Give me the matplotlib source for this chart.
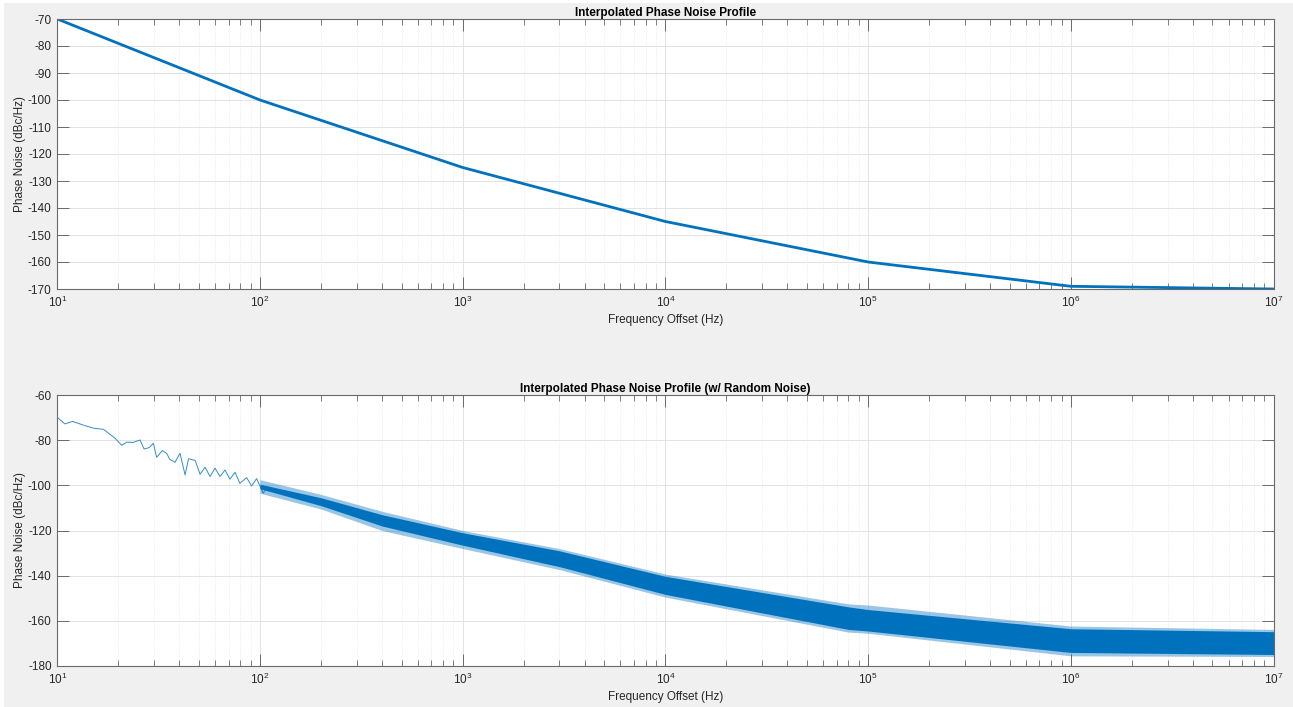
import matplotlib
matplotlib.use("Agg")
import matplotlib.pyplot as plt
from matplotlib.patches import Rectangle
from matplotlib.ticker import LogLocator, NullFormatter

# ---- data ----
profile_freq = [1e1, 1e2, 1e3, 1e4, 1e5, 1e6, 1e7]
profile_pn = [-70, -100, -125, -145, -160, -169, -170]

# low-frequency part of the noisy trace (individual wiggles)
noisy_freq = [10, 10.9, 11.9, 13.4, 15.1, 16.9, 18.2, 19.3, 20.8, 22.0, 23.7,
              25.6, 26.8, 28.4, 29.8, 30.9, 33.0, 34.6, 35.9, 38.1, 40.3, 42.7,
              44.4, 47.9, 50.6, 53.6, 56.7, 60.0, 63.5, 67.2, 71.1, 75.3, 79.6,
              85.9, 91.0, 96.2, 103.8, 108.0]
noisy_pn = [-69.9, -72.8, -71.7, -73.3, -74.7, -75.2, -77.4, -79.2, -82.3, -80.9,
            -81.0, -79.9, -83.9, -83.3, -81.4, -87.6, -84.6, -85.8, -88.5, -89.8,
            -85.8, -95.4, -88.2, -89.0, -95.1, -92.0, -96.1, -92.4, -96.1, -93.2,
            -97.3, -94.2, -99.1, -96.6, -100.3, -97.0, -103.5, -100.5]

# dense noisy band at higher offsets: core and spike envelopes
band_freq = [100, 200, 400, 1e3, 3e3, 1e4, 8e4, 1e5, 1e6, 1e7]
core_upper = [-99.5, -105.5, -113.0, -121.0, -129.0, -140.3, -153.8, -155.0, -163.5, -164.8]
core_lower = [-101.5, -109.0, -118.0, -126.5, -136.0, -148.3, -163.8, -164.5, -174.0, -174.9]
spike_upper = [-97.5, -104.0, -111.5, -120.0, -128.0, -139.3, -152.5, -153.0, -162.3, -163.8]
spike_lower = [-103.5, -110.5, -120.0, -128.0, -137.3, -149.5, -165.0, -165.5, -175.5, -175.8]

titles = ["Interpolated Phase Noise Profile",
          "Interpolated Phase Noise Profile (w/ Random Noise)"]
xlabel = "Frequency Offset (Hz)"
ylabel = "Phase Noise (dBc/Hz)"
xticks = [1e1, 1e2, 1e3, 1e4, 1e5, 1e6, 1e7]
xticklabels = ['$10^{1}$', '$10^{2}$', '$10^{3}$', '$10^{4}$',
               '$10^{5}$', '$10^{6}$', '$10^{7}$']
yticks_top = list(range(-170, -69, 10))
yticks_bot = list(range(-180, -59, 20))

# ---- styling ----
plt.rcParams['font.family'] = ['Liberation Sans', 'DejaVu Sans']
plt.rcParams['axes.unicode_minus'] = False
plt.rcParams['mathtext.fontset'] = 'custom'
plt.rcParams['mathtext.rm'] = 'Liberation Sans'
plt.rcParams['mathtext.it'] = 'Liberation Sans'
blue = '#0072BD'
txt = '#262626'
fs = 8.5
W, H = 1293, 707
fig = plt.figure(figsize=(W / 100, H / 100), dpi=100, facecolor='white')
fig.patches.append(Rectangle((4 / W, 0), 1, 1 - 3 / H, transform=fig.transFigure,
                             facecolor='#f0f0f0', edgecolor='none', zorder=-10))

left = 57.3 / W
width = (1273.5 - 57.3) / W
ax1 = fig.add_axes([left, 1 - 289 / H, width, 270 / H])
ax2 = fig.add_axes([left, 1 - 666 / H, width, 271 / H])


def style(ax, yticks, title):
    ax.set_xscale('log')
    ax.set_xticks(xticks)
    ax.set_xticklabels(xticklabels)
    ax.xaxis.set_minor_locator(LogLocator(base=10, subs=range(2, 10), numticks=100))
    ax.xaxis.set_minor_formatter(NullFormatter())
    ax.set_xlim(1e1, 1e7)
    ax.set_yticks(yticks)
    ax.set_ylim(yticks[0], yticks[-1])
    ax.set_facecolor('white')
    for s in ax.spines.values():
        s.set_color('#6a6a6a')
        s.set_linewidth(0.8)
    ax.tick_params(which='major', direction='in', length=8.5, width=0.7,
                   color='#6a6a6a', labelcolor=txt, labelsize=fs,
                   top=True, right=True, pad=4)
    ax.tick_params(which='minor', direction='in', length=4, width=0.6,
                   color='#6a6a6a', top=True, right=True)
    ax.grid(which='major', color='#e3e3e3', linewidth=0.7, linestyle='-')
    ax.grid(which='minor', axis='x', color='#e6e6e6', linewidth=0.6, linestyle=':')
    ax.set_axisbelow(True)
    ax.set_title(title, fontsize=fs, fontweight='bold', color='black', pad=2)
    ax.set_xlabel(xlabel, fontsize=fs, color=txt)
    ax.xaxis.set_label_coords(0.5, -25 / 270)
    ax.set_ylabel(ylabel, fontsize=fs, color=txt)
    ax.yaxis.set_label_coords(-31 / 1216, 0.5)


style(ax1, yticks_top, titles[0])
style(ax2, yticks_bot, titles[1])

ax1.plot(profile_freq, profile_pn, color=blue, linewidth=2.0)

ax2.plot(noisy_freq, noisy_pn, color=blue, linewidth=0.7, alpha=0.8)
ax2.fill_between(band_freq, spike_lower, spike_upper, color=blue, alpha=0.4,
                 linewidth=0)
ax2.fill_between(band_freq, core_lower, core_upper, color=blue, linewidth=0)

fig.savefig('out.png', dpi=100, facecolor=fig.get_facecolor())
